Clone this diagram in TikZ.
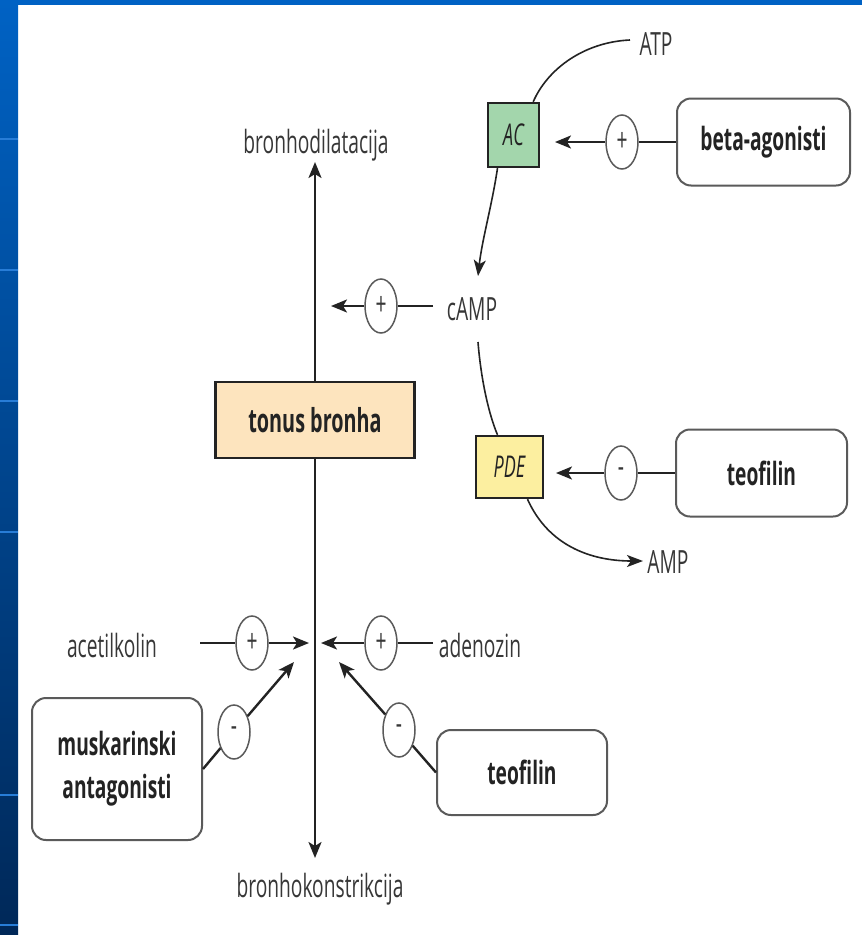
\documentclass[tikz,border=0pt]{standalone}
\usepackage{fontspec}
\setmainfont{Open Sans}[FakeStretch=0.6]
\usetikzlibrary{arrows.meta,shapes.geometric}
\definecolor{bluetop}{RGB}{0,98,196}
\definecolor{bluebot}{RGB}{0,40,88}
\definecolor{blueline}{RGB}{40,125,215}
\definecolor{acgreen}{RGB}{163,214,172}
\definecolor{pdeyellow}{RGB}{252,239,160}
\definecolor{tonuspeach}{RGB}{253,228,190}
\definecolor{inkdark}{RGB}{35,35,35}
\definecolor{inkgray}{RGB}{55,55,55}
\definecolor{framegray}{RGB}{90,90,90}
\begin{document}
\begin{tikzpicture}[x=1pt,y=-1pt,
  lbl/.style={font=\fontsize{32}{36}\selectfont, text=inkgray, inner sep=0pt},
  sbox/.style={draw=framegray, line width=2pt, rounded corners=14pt, fill=white, text=inkdark, font=\fontsize{32}{43}\selectfont\bfseries, align=center, inner sep=0pt},
  enz/.style={draw=inkdark, line width=2.4pt, text=inkdark, font=\fontsize{30}{34}\selectfont\itshape, inner sep=0pt},
  sgn/.style={ellipse, draw=framegray, line width=1.5pt, fill=white, minimum width=32pt, minimum height=54pt, inner sep=0pt, text=inkgray, font=\fontsize{32}{32}\selectfont},
  conn/.style={draw=inkdark, line width=2.4pt},
  arr/.style={conn, -{Stealth[length=16pt,width=13pt,inset=4pt]}},
  thinline/.style={draw=inkdark, line width=1.6pt},
  thinarr/.style={thinline, -{Stealth[length=16pt,width=12pt,inset=4pt]}},
]
\useasboundingbox (0,0) rectangle (862,935);
\fill[white] (0,0) rectangle (862,935);
\shade[top color=bluetop, bottom color=bluebot] (0,0) rectangle (18,935);
\fill[bluetop] (0,0) rectangle (862,5);
\foreach \yy in {139,270,401,532,795,925} \fill[blueline] (0,\yy-1) rectangle (18,\yy+1);

% labels
\node[lbl] (dil) at (316,145) {bronhodilatacija};
\node[lbl] (kon) at (320,889) {bronhokonstrikcija};
\node[lbl] (atp) at (656,44) {ATP};
\node[lbl] (camp) at (472,309) {cAMP};
\node[lbl] (amp) at (668,562) {AMP};
\node[lbl] (acet) at (112,645) {acetilkolin};
\node[lbl] (aden) at (480,645) {adenozin};

% central box and enzymes
\node[draw=inkdark, line width=2.4pt, fill=tonuspeach, minimum width=199pt, minimum height=76pt, inner sep=0pt, text=inkdark, font=\fontsize{33}{36}\selectfont\bfseries] (tonus) at (315,420) {tonus bronha};
\node[enz, fill=acgreen, minimum width=51pt, minimum height=64pt] (ac) at (513.5,135) {AC};
\node[enz, fill=pdeyellow, minimum width=67pt, minimum height=62pt] (pde) at (509.5,467) {PDE};

% drug boxes
\node[sbox, minimum width=173pt, minimum height=87pt] (beta) at (763.5,142) {beta-agonisti};
\node[sbox, minimum width=171pt, minimum height=87pt] (teo1) at (761.5,473) {teofilin};
\node[sbox, minimum width=170pt, minimum height=142pt] (musk) at (117,769) {muskarinski\\antagonisti};
\node[sbox, minimum width=170pt, minimum height=85pt] (teo2) at (522,772.5) {teofilin};

% signs
\node[sgn] (pAC) at (622,142) {+};
\node[sgn] (mPDE) at (621,473) {-};
\node[sgn] (pC) at (381,306) {+};
\node[sgn] (pA) at (252,643) {+};
\node[sgn] (pD) at (381,643) {+};
\node[sgn] (mM) at (234,732) {-};
\node[sgn] (mT) at (399,730) {-};

% coordinates
\coordinate (tAC) at (555,142);
\coordinate (tPDE) at (556,473);
\coordinate (tC) at (331,306);
\coordinate (sC) at (433,306);
\coordinate (sA) at (200,643);
\coordinate (tA) at (309,643);
\coordinate (sD) at (433,643);
\coordinate (tD) at (321,643);
\coordinate (tM) at (294,662);
\coordinate (tT) at (339,662);
\coordinate (topTip) at (315,162);
\coordinate (botTip) at (315,858);
\coordinate (sATP) at (630,40);
\coordinate (tcamp) at (478,276);
\coordinate (scamp) at (478,342);
\coordinate (tAMP) at (643,561);

% connectors
\draw[conn] (beta) -- (pAC);
\draw[arr] (pAC) -- (tAC);
\draw[conn] (teo1) -- (mPDE);
\draw[arr] (mPDE) -- (tPDE);
\draw[conn] (sC) -- (pC);
\draw[arr] (pC) -- (tC);
\draw[conn] (sA) -- (pA);
\draw[arr] (pA) -- (tA);
\draw[conn] (sD) -- (pD);
\draw[arr] (pD) -- (tD);
\draw[conn] (musk.east) -- (mM);
\draw[arr] (mM) -- (tM);
\draw[conn] (teo2.west) -- (mT);
\draw[arr] (mT) -- (tT);
\draw[arr] (tonus.north) -- (topTip);
\draw[arr] (tonus.south) -- (botTip);

% curves
\draw[thinline] (sATP) .. controls (585,42) and (548,68) .. ([xshift=-7pt]ac.north east);
\draw[thinarr] ([xshift=-16pt]ac.south) .. controls (492,205) and (482,240) .. (tcamp);
\draw[thinline] (scamp) .. controls (481,380) and (489,415) .. ([xshift=-12pt]pde.north);
\draw[thinarr] ([xshift=18pt]pde.south) .. controls (548,545) and (590,561) .. (tAMP);
\end{tikzpicture}
\end{document}
